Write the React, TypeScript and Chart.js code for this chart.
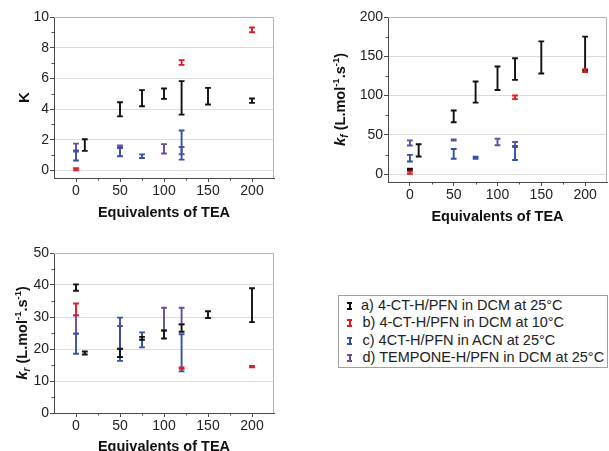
import React, { useEffect, useRef } from "react";
import { Chart, registerables } from "chart.js";

Chart.register(...registerables);

const FONT = '"Liberation Sans", Arial, Helvetica, sans-serif';

// x axis (Equivalents of TEA)
const TEA_TICKS = [0, 50, 100, 150, 200];
const TEA_MINOR = [25, 75, 125, 175];

// y tick labels
const K_TICKS = [0, 2, 4, 6, 8, 10];
const K_MINOR = [1, 3, 5, 7, 9];
const KF_TICKS = [0, 50, 100, 150, 200];
const KF_MINOR = [25, 75, 125, 175];
const KR_TICKS = [0, 10, 20, 30, 40, 50];
const KR_MINOR = [5, 15, 25, 35, 45];

// series: [TEA equivalents, lower, upper]
const K_A = [[10, 1.27, 2.03], [50, 3.52, 4.44], [75, 4.18, 5.23], [100, 4.66, 5.34], [120, 3.63, 5.82], [150, 4.29, 5.38], [200, 4.4, 4.68]];
const K_B = [[0, 0.0, 0.14], [120, 6.88, 7.19], [200, 9.01, 9.32]];
const K_C = [[0, 0.64, 1.3], [50, 0.92, 1.45], [75, 0.8, 1.04], [120, 0.7, 2.6]];
const K_D = [[0, 1.22, 1.74], [50, 1.52, 1.62], [100, 1.1, 1.71], [120, 1.05, 1.52]];

const KF_A = [[0, 5.2, 6.8], [10, 22.5, 38], [50, 66, 81], [75, 91, 118], [100, 107, 137], [120, 120, 147.5], [150, 128, 169], [200, 132, 175]];
const KF_B = [[0, 0.5, 3.5], [120, 95.5, 100], [200, 130, 133.5]];
const KF_C = [[0, 16, 24.5], [50, 19.5, 32], [75, 19.6, 22.2], [120, 18, 36]];
const KF_D = [[0, 36.5, 43], [50, 42.6, 44], [100, 36.8, 45], [120, 34.5, 41]];

const KR_A = [[0, 38.2, 40.2], [10, 18.3, 19.2], [50, 17.5, 20.1], [75, 22.9, 23.8], [100, 23.3, 25.8], [120, 25.4, 27.7], [150, 29.7, 31.8], [200, 28.4, 39]];
const KR_B = [[0, 30.5, 34.2], [120, 13.8, 14.2], [200, 14.3, 14.7]];
const KR_C = [[0, 18.5, 24.8], [50, 16.3, 29.8], [75, 20.5, 25.2], [120, 13.0, 24.6]];
const KR_D = [[0, 24.8, 30.5], [50, 20, 27.2], [100, 25.8, 32.9], [120, 27.7, 32.9]];

const SERIES_LABELS = [
  "a) 4-CT-H/PFN in DCM at 25°C",
  "b) 4-CT-H/PFN in DCM at 10°C",
  "c) 4CT-H/PFN in ACN at 25°C",
  "d) TEMPONE-H/PFN in DCM at 25°C",
];
const SERIES_COLORS = ["#111111", "#e8161f", "#3550a6", "#6b4c9e"];
const DRAW_ORDER = [3, 2, 0, 1];

const AXIS = "#4a4a4a";
const FRAME = "#b4b4b4";
const GRID = "#dcdcdc";

type Seg = { t: string; font: string; dy?: number };

const B = (s: number) => `bold ${s}px ${FONT}`;
const BI = (s: number) => `italic bold ${s}px ${FONT}`;

const TITLE_K: Seg[] = [{ t: "K", font: B(15) }];
const unitSegs = (sub: string): Seg[] => [
  { t: "k", font: BI(15) },
  { t: sub, font: BI(10), dy: 3 },
  { t: " (L.mol", font: B(14.5) },
  { t: "-1", font: B(9.5), dy: -6 },
  { t: ".s", font: B(14.5) },
  { t: "-1", font: B(9.5), dy: -6 },
  { t: ")", font: B(14.5) },
];

interface Spec {
  left: number; top: number; w: number; h: number;
  pad: { top: number; right: number };
  yWidth: number; xHeight: number; xTitlePad: number;
  series: number[][][];
  yMin: number; yMax: number; yTicks: number[]; yMinor: number[];
  title: Seg[]; titleBaseX: number;
}

const SPECS: Spec[] = [
  {
    left: 0, top: 0, w: 290, h: 225, pad: { top: 17, right: 16 }, yWidth: 54, xHeight: 47, xTitlePad: 3.3,
    series: [K_A, K_B, K_C, K_D], yMin: -0.5, yMax: 10, yTicks: K_TICKS, yMinor: K_MINOR,
    title: TITLE_K, titleBaseX: 28.5,
  },
  {
    left: 300, top: 0, w: 309, h: 230, pad: { top: 17, right: 2 }, yWidth: 88, xHeight: 48, xTitlePad: 4.3,
    series: [KF_A, KF_B, KF_C, KF_D], yMin: -10, yMax: 200, yTicks: KF_TICKS, yMinor: KF_MINOR,
    title: unitSegs("f"), titleBaseX: 45,
  },
  {
    left: 0, top: 230, w: 290, h: 232, pad: { top: 23, right: 16 }, yWidth: 54, xHeight: 49, xTitlePad: 6.3,
    series: [KR_A, KR_B, KR_C, KR_D], yMin: 0, yMax: 50, yTicks: KR_TICKS, yMinor: KR_MINOR,
    title: unitSegs("r"), titleBaseX: 27,
  },
];

const errorBarPlugin = {
  id: "errorBars",
  afterDatasetsDraw(chart: any) {
    const { ctx, scales } = chart;
    const xs = scales.x, ys = scales.y;
    ctx.save();
    ctx.lineCap = "butt";
    for (const i of DRAW_ORDER) {
      const ds = chart.data.datasets[i];
      if (!ds) continue;
      ctx.strokeStyle = ds.borderColor;
      ctx.lineWidth = 1.9;
      for (const p of ds.data) {
        const px = xs.getPixelForValue(p.x);
        const lo = ys.getPixelForValue(p.lo);
        const hi = ys.getPixelForValue(p.hi);
        ctx.beginPath();
        ctx.moveTo(px, lo);
        ctx.lineTo(px, hi);
        ctx.moveTo(px - 2.9, lo);
        ctx.lineTo(px + 2.9, lo);
        ctx.moveTo(px - 2.9, hi);
        ctx.lineTo(px + 2.9, hi);
        ctx.stroke();
      }
    }
    ctx.restore();
  },
};

function makeDecorPlugin(spec: Spec) {
  return {
    id: "decor",
    beforeDatasetsDraw(chart: any) {
      const { ctx, chartArea } = chart;
      ctx.save();
      ctx.strokeStyle = FRAME;
      ctx.lineWidth = 1;
      ctx.beginPath();
      ctx.moveTo(chartArea.left, chartArea.top + 0.5);
      ctx.lineTo(chartArea.right - 0.5, chartArea.top + 0.5);
      ctx.lineTo(chartArea.right - 0.5, chartArea.bottom);
      ctx.stroke();
      ctx.restore();
    },
    afterDraw(chart: any) {
      const { ctx, chartArea, scales } = chart;
      ctx.save();
      ctx.strokeStyle = AXIS;
      ctx.lineWidth = 1;
      ctx.beginPath();
      for (const v of TEA_MINOR) {
        const px = Math.round(scales.x.getPixelForValue(v)) + 0.5;
        ctx.moveTo(px, chartArea.bottom);
        ctx.lineTo(px, chartArea.bottom + 2.5);
      }
      for (const v of spec.yMinor) {
        const py = Math.round(scales.y.getPixelForValue(v)) + 0.5;
        ctx.moveTo(chartArea.left, py);
        ctx.lineTo(chartArea.left - 2.5, py);
      }
      ctx.stroke();
      // rotated y title with sub/superscripts
      const cy = (chartArea.top + chartArea.bottom) / 2;
      ctx.translate(spec.titleBaseX, cy);
      ctx.rotate(-Math.PI / 2);
      ctx.fillStyle = "#111";
      ctx.textBaseline = "alphabetic";
      ctx.textAlign = "left";
      let total = 0;
      for (const s of spec.title) {
        ctx.font = s.font;
        total += ctx.measureText(s.t).width;
      }
      let x = -total / 2;
      for (const s of spec.title) {
        ctx.font = s.font;
        ctx.fillText(s.t, x, s.dy || 0);
        x += ctx.measureText(s.t).width;
      }
      ctx.restore();
    },
  };
}

function buildConfig(spec: Spec): any {
  return {
    type: "scatter",
    data: {
      datasets: spec.series.map((rows, i) => ({
        label: SERIES_LABELS[i],
        data: rows.map(([x, lo, hi]) => ({ x, y: (lo + hi) / 2, lo, hi })),
        borderColor: SERIES_COLORS[i],
        backgroundColor: SERIES_COLORS[i],
        pointRadius: 0,
        pointHoverRadius: 0,
        showLine: false,
      })),
    },
    options: {
      animation: false,
      responsive: false,
      devicePixelRatio: 1,
      events: [],
      layout: { padding: { top: spec.pad.top, right: spec.pad.right, left: 0, bottom: 0 } },
      plugins: { legend: { display: false }, tooltip: { enabled: false } },
      scales: {
        x: {
          type: "linear",
          min: -25,
          max: 225,
          afterBuildTicks: (s: any) => { s.ticks = TEA_TICKS.map((v) => ({ value: v })); },
          afterFit: (s: any) => { s.height = spec.xHeight; },
          grid: { drawOnChartArea: false, drawTicks: true, tickLength: 4, color: AXIS, tickColor: AXIS },
          border: { display: true, color: AXIS, width: 1 },
          ticks: { font: { family: FONT, size: 14 }, color: "#222", padding: 1, maxRotation: 0, autoSkip: false },
          title: {
            display: true,
            text: "Equivalents of TEA",
            font: { family: FONT, size: 14.5, weight: "bold" },
            color: "#111",
            padding: { top: 0, bottom: spec.xTitlePad },
          },
        },
        y: {
          type: "linear",
          min: spec.yMin,
          max: spec.yMax,
          afterBuildTicks: (s: any) => { s.ticks = spec.yTicks.map((v) => ({ value: v })); },
          afterFit: (s: any) => { s.width = spec.yWidth; },
          grid: { drawOnChartArea: true, drawTicks: true, tickLength: 4, color: GRID, tickColor: AXIS },
          border: { display: true, color: AXIS, width: 1 },
          ticks: { font: { family: FONT, size: 14 }, color: "#222", padding: 1, autoSkip: false },
          title: { display: false },
        },
      },
    },
    plugins: [errorBarPlugin, makeDecorPlugin(spec)],
  };
}

function Panel({ spec }: { spec: Spec }) {
  const ref = useRef<HTMLCanvasElement>(null);
  useEffect(() => {
    if (!ref.current) return;
    const chart = new Chart(ref.current, buildConfig(spec));
    return () => chart.destroy();
  }, [spec]);
  return (
    <canvas
      ref={ref}
      width={spec.w}
      height={spec.h}
      style={{ position: "absolute", left: spec.left, top: spec.top, width: spec.w, height: spec.h }}
    />
  );
}

function ErrIcon({ color }: { color: string }) {
  const bar: React.CSSProperties = { position: "absolute", background: color };
  return (
    <span style={{ position: "absolute", left: 8, top: 5, width: 5, height: 8 }}>
      <span style={{ ...bar, left: 0, top: 0, width: 5, height: 2 }} />
      <span style={{ ...bar, left: 1.5, top: 0, width: 2, height: 8 }} />
      <span style={{ ...bar, left: 0, top: 6, width: 5, height: 2 }} />
    </span>
  );
}

function Legend() {
  return (
    <div
      style={{
        position: "absolute",
        left: 338,
        top: 295,
        width: 270,
        height: 73,
        boxSizing: "border-box",
        border: "1px solid #a0a0a0",
        paddingTop: 1,
        fontFamily: FONT,
        fontSize: 14.5,
        lineHeight: "17.3px",
        color: "#222",
        whiteSpace: "nowrap",
        background: "#fff",
      }}
    >
      {SERIES_LABELS.map((label, i) => (
        <div key={label} style={{ position: "relative", height: 17.3, paddingLeft: i === 0 ? 22 : 23.5 }}>
          <ErrIcon color={SERIES_COLORS[i]} />
          {label}
        </div>
      ))}
    </div>
  );
}

export default function App() {
  return (
    <div
      style={{
        position: "absolute",
        left: 0,
        top: 0,
        width: 609,
        height: 451,
        overflow: "hidden",
        background: "#fff",
      }}
    >
      {SPECS.map((s, i) => (
        <Panel key={i} spec={s} />
      ))}
      <Legend />
    </div>
  );
}
